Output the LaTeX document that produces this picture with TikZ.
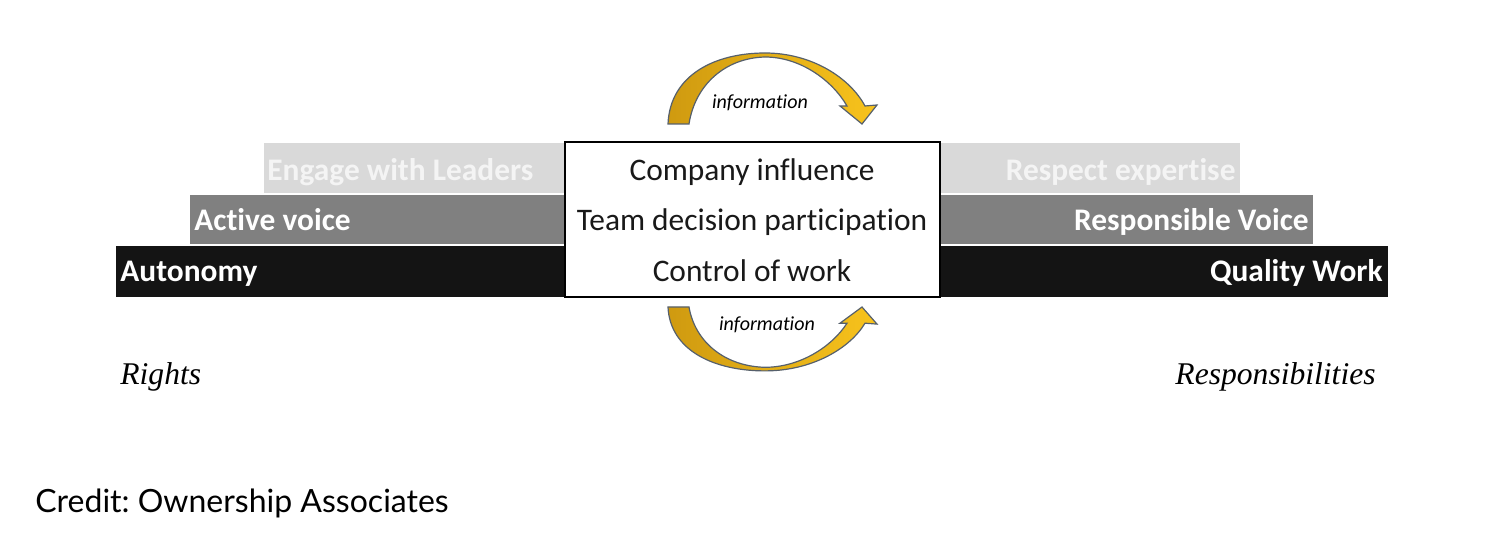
\documentclass[tikz,border=0pt]{standalone}
\usepackage{fontspec}
\setmainfont{Carlito}[Ligatures=NoCommon]
\newfontfamily\rsfont{Liberation Serif}
\newfontfamily\creditfont{Lato}
\frenchspacing
\definecolor{barblack}{HTML}{141414}
\definecolor{bargray}{HTML}{808080}
\definecolor{barlight}{HTML}{D9D9D9}
\definecolor{lbllight}{HTML}{F4F4F4}
\definecolor{arcdark}{HTML}{CF9A10}
\definecolor{arclight}{HTML}{F8C31C}
\definecolor{arcline}{HTML}{56606C}
\newcommand{\infoarc}{%
    \shade[left color=arcdark, right color=arclight, draw=arcline, line width=0.6pt]
        (668,124) .. controls (670,75) and (715,53) .. (765,53)
        .. controls (812,53) and (850,78) .. (865,106)
        -- (877,105) -- (862,124) -- (840,106) -- (847,106)
        .. controls (832,80) and (800,57) .. (765,57)
        .. controls (725,58) and (695,85) .. (689,124) -- cycle;}
\tikzset{
    boxtext/.style={inner sep=0pt, anchor=base, text=black!90, font=\fontsize{15.7}{18}\selectfont},
    barlabel/.style={inner sep=0pt, font=\bfseries\fontsize{15.7}{18}\selectfont},
    infolabel/.style={inner sep=0pt, anchor=base, font=\itshape\fontsize{10}{12}\selectfont},
    sidelabel/.style={inner sep=0pt, font=\rsfont\itshape\fontsize{15.8}{19}\selectfont}
}
\begin{document}
\begin{tikzpicture}[x=0.5pt, y=-0.5pt]
    \useasboundingbox (0,0) rectangle (1512,550);
    \fill [barblack] (116,246) rectangle (1388,297);
    \fill [bargray] (190,195) rectangle (565,244);
    \fill [bargray] (940,195) rectangle (1313,244);
    \fill [barlight] (264,143) rectangle (565,193);
    \fill [barlight] (940,143) rectangle (1240,193);
    \draw [line width=1pt, fill=white] (565,142) rectangle (940,297);
    \node [boxtext] (influence) at (752,181) {Company influence};
    \node [boxtext] (decision) at (752,231) {Team decision participation};
    \node [boxtext] (control) at (752,282) {Control of work};
    \node [barlabel, anchor=base west, text=lbllight] (engage) at (267,181) {Engage with Leaders};
    \node [barlabel, anchor=base west, text=white] (active) at (194,231) {Active voice};
    \node [barlabel, anchor=base west, text=white] (autonomy) at (120,282) {Autonomy};
    \node [barlabel, anchor=base east, text=lbllight] (respect) at (1236,181) {Respect expertise};
    \node [barlabel, anchor=base east, text=white] (voice) at (1309,231) {Responsible Voice};
    \node [barlabel, anchor=base east, text=white] (quality) at (1383,282) {Quality Work};
    \infoarc
    \begin{scope}[shift={(0,418.6)}, yscale=-0.9]
        \infoarc
    \end{scope}
    \node [infolabel] (infotop) at (760,109) {information};
    \node [infolabel] (infobottom) at (767,331) {information};
    \node [sidelabel, anchor=base west] (rights) at (120,385) {Rights};
    \node [sidelabel, anchor=base east] (resp) at (1376,385) {Responsibilities};
    \node [inner sep=0pt, anchor=base west, font=\creditfont\fontsize{16}{19}\selectfont] (credit) at (35,513) {Credit: Ownership Associates};
\end{tikzpicture}
\end{document}
